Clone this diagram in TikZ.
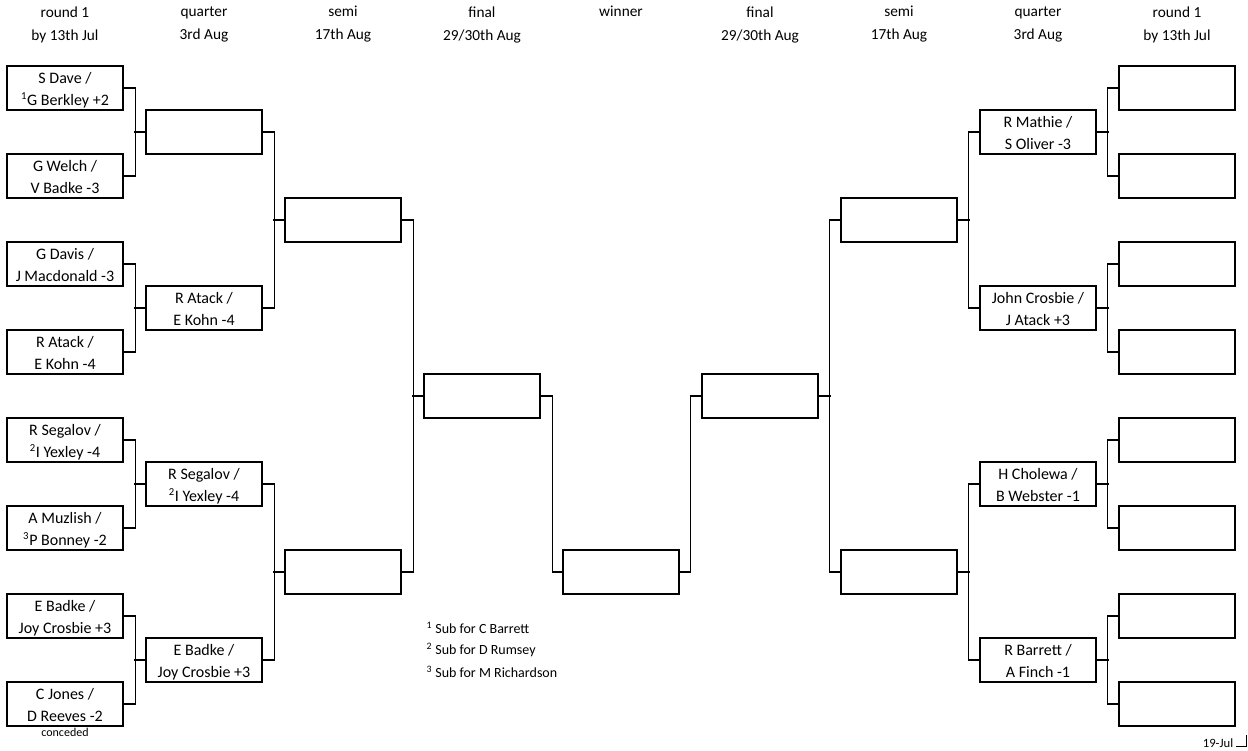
\documentclass[tikz,border=0pt]{standalone}
\usepackage{fontspec}
\setmainfont{Carlito}
\newcommand{\duo}[2]{\raisebox{0pt}[\height][\dimexpr\depth-3pt\relax]{\begin{tabular}{@{}c@{}}#1\\#2\end{tabular}}}
\begin{document}
\begin{tikzpicture}[x=0.75pt,y=-0.75pt,line width=0.8pt,
		team/.style={draw, minimum width=87pt, minimum height=33pt, inner sep=0pt, font=\fontsize{12}{16.5}\selectfont},
		head/.style={align=center, font=\fontsize{11.5}{17.25}\selectfont},
		note/.style={anchor=west, inner sep=0pt, font=\fontsize{10.5}{12}\selectfont}]
			\useasboundingbox (0,0) rectangle (1248,750);
			
			\node[head] (h1) at (65,24.5) {round 1\\by 13th Jul};
			\node[head] (h2) at (204,24.5) {quarter\\3rd Aug};
			\node[head] (h3) at (343,24.5) {semi\\17th Aug};
			\node[head] (h4) at (482,24.5) {final\\29/30th Aug};
			\node[head] (h5) at (621,11) {winner};
			\node[head] (h6) at (760,24.5) {final\\29/30th Aug};
			\node[head] (h7) at (899,24.5) {semi\\17th Aug};
			\node[head] (h8) at (1038,24.5) {quarter\\3rd Aug};
			\node[head] (h9) at (1177,24.5) {round 1\\by 13th Jul};
			
			% left half
			\node[team] (la1) at (65,88) {\duo{S Dave /}{\textsuperscript{1}G Berkley +2}};
			\node[team] (la2) at (65,176) {\duo{G Welch /}{V Badke -3}};
			\node[team] (la3) at (65,264) {\duo{G Davis /}{J Macdonald -3}};
			\node[team] (la4) at (65,352) {\duo{R Atack /}{E Kohn -4}};
			\node[team] (la5) at (65,440) {\duo{R Segalov /}{\textsuperscript{2}I Yexley -4}};
			\node[team] (la6) at (65,528) {\duo{A Muzlish /}{\textsuperscript{3}P Bonney -2}};
			\node[team] (la7) at (65,616) {\duo{E Badke /}{Joy Crosbie +3}};
			\node[team] (la8) at (65,704) {\duo{C Jones /}{D Reeves -2}};
			\node[font=\fontsize{9}{10}\selectfont] (conc) at (65,732) {conceded};
			
			\node[team] (lq1) at (204,132) {};
			\node[team] (lq2) at (204,308) {\duo{R Atack /}{E Kohn -4}};
			\node[team] (lq3) at (204,484) {\duo{R Segalov /}{\textsuperscript{2}I Yexley -4}};
			\node[team] (lq4) at (204,660) {\duo{E Badke /}{Joy Crosbie +3}};
			
			\node[team] (ls1) at (343,220) {};
			\node[team] (ls2) at (343,572) {};
			\node[team] (lf) at (482,396) {};
			
			\node[team] (win) at (621,572) {};
			
			% right half
			\node[team] (rf) at (760,396) {};
			\node[team] (rs1) at (899,220) {};
			\node[team] (rs2) at (899,572) {};
			
			\node[team] (rq1) at (1038,132) {\duo{R Mathie /}{S Oliver -3}};
			\node[team] (rq2) at (1038,308) {\duo{John Crosbie /}{J Atack +3}};
			\node[team] (rq3) at (1038,484) {\duo{H Cholewa /}{B Webster -1}};
			\node[team] (rq4) at (1038,660) {\duo{R Barrett /}{A Finch -1}};
			
			\node[team] (ra1) at (1177,88) {};
			\node[team] (ra2) at (1177,176) {};
			\node[team] (ra3) at (1177,264) {};
			\node[team] (ra4) at (1177,352) {};
			\node[team] (ra5) at (1177,440) {};
			\node[team] (ra6) at (1177,528) {};
			\node[team] (ra7) at (1177,616) {};
			\node[team] (ra8) at (1177,704) {};
			
			% brackets, left
			\draw (la1.east) -- ++(12,0) |- (la2.east);
			\draw (la3.east) -- ++(12,0) |- (la4.east);
			\draw (la5.east) -- ++(12,0) |- (la6.east);
			\draw (la7.east) -- ++(12,0) |- (la8.east);
			\draw (lq1.west) -- ++(-11,0);
			\draw (lq2.west) -- ++(-11,0);
			\draw (lq3.west) -- ++(-11,0);
			\draw (lq4.west) -- ++(-11,0);
			
			\draw (lq1.east) -- ++(12,0) |- (lq2.east);
			\draw (lq3.east) -- ++(12,0) |- (lq4.east);
			\draw (ls1.west) -- ++(-11,0);
			\draw (ls2.west) -- ++(-11,0);
			
			\draw (ls1.east) -- ++(12,0) |- (ls2.east);
			\draw (lf.west) -- ++(-11,0);
			
			\draw (lf.east) -- ++(12,0) |- (win.west);
			\draw (rf.west) -- ++(-11,0) |- (win.east);
			
			% brackets, right
			\draw (rs1.west) -- ++(-11,0) |- (rs2.west);
			\draw (rf.east) -- ++(12,0);
			
			\draw (rq1.west) -- ++(-11,0) |- (rq2.west);
			\draw (rq3.west) -- ++(-11,0) |- (rq4.west);
			\draw (rs1.east) -- ++(12,0);
			\draw (rs2.east) -- ++(12,0);
			
			\draw (ra1.west) -- ++(-11,0) |- (ra2.west);
			\draw (ra3.west) -- ++(-11,0) |- (ra4.west);
			\draw (ra5.west) -- ++(-11,0) |- (ra6.west);
			\draw (ra7.west) -- ++(-11,0) |- (ra8.west);
			\draw (rq1.east) -- ++(12,0);
			\draw (rq2.east) -- ++(12,0);
			\draw (rq3.east) -- ++(12,0);
			\draw (rq4.east) -- ++(12,0);
			
			% footnotes
			\node[note] (n1) at (426,628) {\textsuperscript{1} Sub for C Barrett};
			\node[note] (n2) at (426,650) {\textsuperscript{2} Sub for D Rumsey};
			\node[note] (n3) at (426,672) {\textsuperscript{3} Sub for M Richardson};
			
			\node[font=\fontsize{9.5}{11}\selectfont] (date) at (1218,743) {19-Jul};
			\draw[line width=0.6pt] (1236,746) -- (1246,746) -- (1246,735);
			
		\end{tikzpicture}
\end{document}
